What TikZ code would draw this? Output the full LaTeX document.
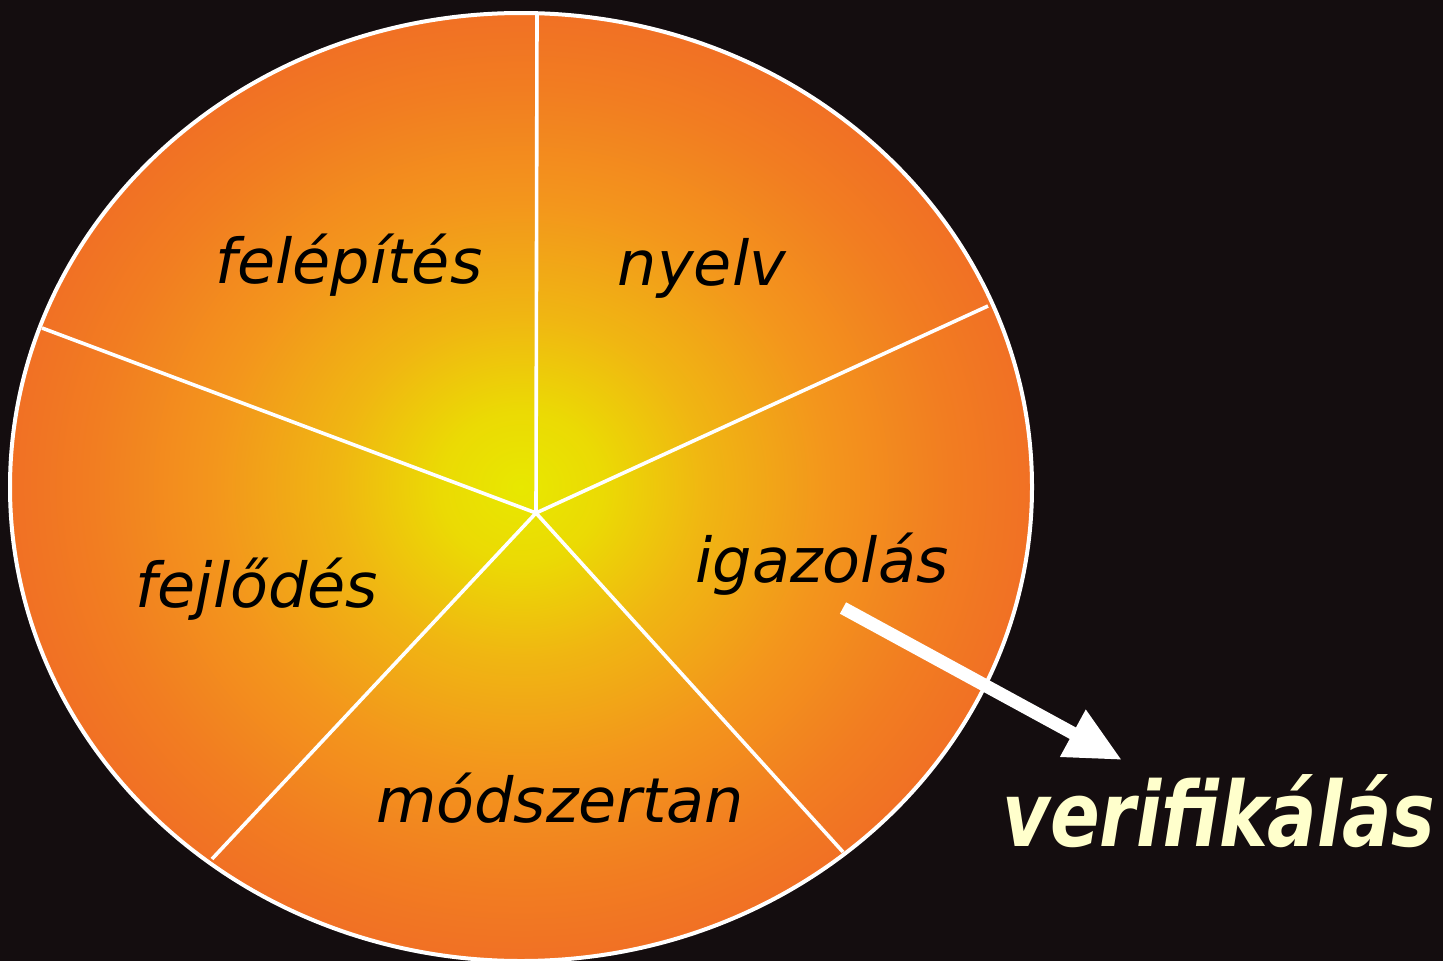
\documentclass[tikz,border=0pt]{standalone}
\usepackage{fontspec}
\setmainfont{DejaVu Sans}
\usetikzlibrary{arrows.meta}
\definecolor{bg}{RGB}{20,13,15}
\definecolor{pcA}{RGB}{232,232,0}
\definecolor{pcB}{RGB}{235,218,4}
\definecolor{pcC}{RGB}{240,182,18}
\definecolor{pcD}{RGB}{243,150,28}
\definecolor{pcE}{RGB}{242,125,33}
\definecolor{pcF}{RGB}{240,106,38}
\definecolor{verif}{RGB}{255,255,204}
\pgfdeclareradialshading{pieshade}{\pgfpoint{0bp}{0bp}}{color(0bp)=(pcA); color(4bp)=(pcB); color(9bp)=(pcC); color(15bp)=(pcD); color(21bp)=(pcE); color(27bp)=(pcF); color(50bp)=(pcF)}
\tikzset{
  divider/.style={draw=white, line width=3.6pt},
  rim/.style={draw=white, line width=4pt},
  lab/.style={font=\fontsize{62}{70}\selectfont\itshape, text=black, inner sep=0pt, anchor=base},
  biglab/.style={font=\fontsize{90}{100}\selectfont\bfseries\itshape, text=verif, inner sep=0pt, anchor=base},
  bigarrow/.style={draw=white, line width=13pt, line cap=butt, -{Triangle[length=56pt,width=50pt]}}
}
\begin{document}
\begin{tikzpicture}[x=1pt,y=-1pt]
\useasboundingbox (0,0) rectangle (1443,961);
\fill[bg] (0,0) rectangle (1443,961);
% pie
\shade[shading=pieshade] (521,487) ellipse [x radius=511, y radius=474];
\coordinate (hub) at (536,513);
\coordinate (pT) at (537,13);
\coordinate (pR) at (988,306);
\coordinate (pL) at (42,328);
\coordinate (pBL) at (212,859);
\coordinate (pBR) at (843,852);
\foreach \p in {pT,pR,pL,pBL,pBR} {\draw[divider] (hub) -- (\p);}
\draw[rim] (521,487) ellipse [x radius=511, y radius=474];
% labels
\node[lab] (fel) at (349,283) {felépítés};
\node[lab] (nye) at (702,285) {nyelv};
\node[lab] (iga) at (822,582) {igazolás};
\node[lab] (fej) at (257,607) {fejlődés};
\node[lab] (mod) at (560,822) {módszertan};
\node[biglab, xscale=0.815] (ver) at (1219,846) {verifikálás};
% arrow
\coordinate (aS) at (843,608);
\coordinate (aE) at (1122,760);
\draw[bigarrow] (aS) -- (aE);
\end{tikzpicture}
\end{document}
